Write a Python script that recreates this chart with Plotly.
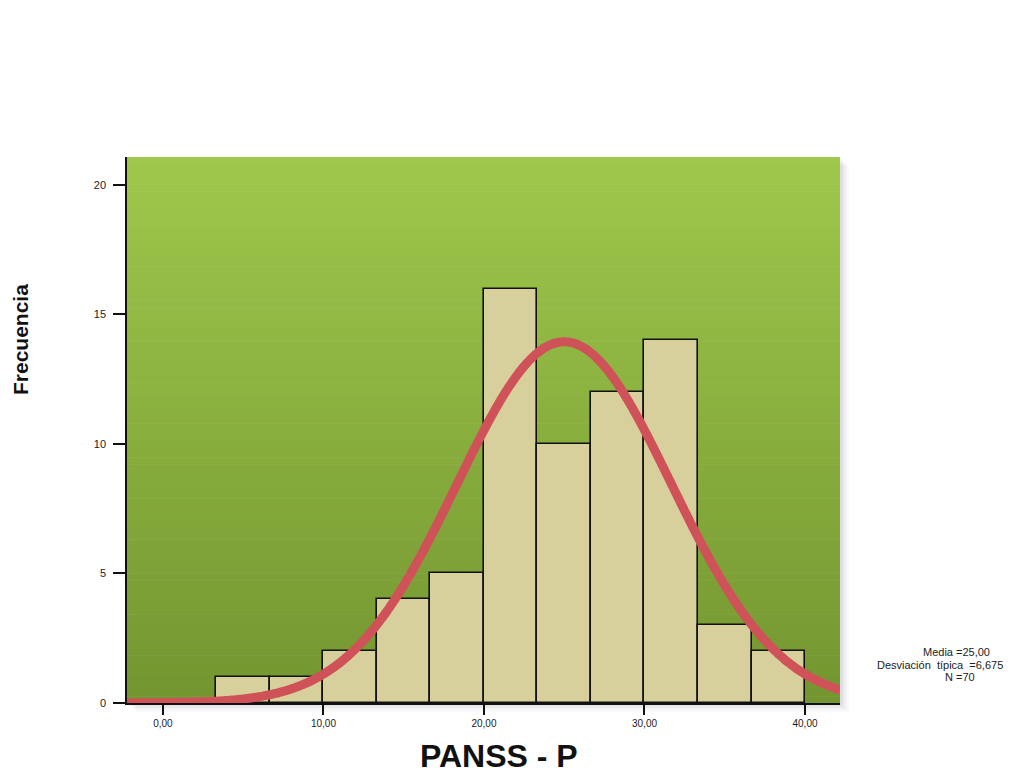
import numpy as np
import plotly.graph_objects as go

# ---- data ----
bin_edges = [10/3, 20/3, 10.0, 40/3, 50/3, 20.0, 70/3, 80/3, 30.0, 100/3, 110/3, 40.0]
counts = [1, 1, 2, 4, 5, 16, 10, 12, 14, 3, 2]
mean_val = 25.00
sd_val = 6.675
n_val = 70
x_tickvals = [0, 10, 20, 30, 40]
x_ticktext = ["0,00", "10,00", "20,00", "30,00", "40,00"]
y_tickvals = [0, 5, 10, 15, 20]
stats_lines = ["Media =25,00", "Desviación  típica  =6,675", "N =70"]

# ---- layout geometry (page has an 8px body margin) ----
OFF = 8
W, H = 1000, 765
L, R, T, B = 127, 840, 157, 703
x_range = [-2.24, 42.18]
y_range = [0, 21.08]


def px_to_paper(px, py):
    return (px - L) / (R - L), (B - py) / (B - T)


centers = [(a + b) / 2 for a, b in zip(bin_edges[:-1], bin_edges[1:])]
widths = [b - a for a, b in zip(bin_edges[:-1], bin_edges[1:])]
bw = widths[0]

# normal curve defined by the displayed statistics
xc = np.linspace(x_range[0], x_range[1], 400)
yc = n_val * bw / (sd_val * np.sqrt(2 * np.pi)) * np.exp(-0.5 * ((xc - mean_val) / sd_val) ** 2)

fig = go.Figure()
fig.add_trace(go.Bar(
    x=centers, y=counts, width=widths,
    marker=dict(color="#d8d09c", line=dict(color="#111111", width=1.6)),
    hoverinfo="x+y",
))
fig.add_trace(go.Scatter(
    x=xc, y=yc, mode="lines",
    line=dict(color="#cf5258", width=9, shape="spline"),
    hoverinfo="skip", cliponaxis=False,
))

# background gradient + soft shadow
shapes = []
for k, (dx, op) in enumerate([(0.012, 0.05), (0.008, 0.07), (0.004, 0.09)]):
    shapes.append(dict(type="rect", xref="paper", yref="paper",
                       x0=dx, x1=1 + dx, y0=-dx * 1.3, y1=1 - dx * 1.3,
                       fillcolor="rgba(90,90,120,%.2f)" % op, line=dict(width=0), layer="below"))
top = np.array([0x9f, 0xc8, 0x4c])
bot = np.array([0x74, 0x96, 0x31])
nstrip = 80
for i in range(nstrip):
    f = i / (nstrip - 1)
    c = top * (1 - f) + bot * f
    y1 = 1 - i / nstrip
    y0 = 1 - (i + 1) / nstrip
    shapes.append(dict(type="rect", xref="paper", yref="paper",
                       x0=0, x1=1, y0=y0 - 0.001, y1=y1,
                       fillcolor="rgb(%d,%d,%d)" % tuple(c.astype(int)),
                       line=dict(width=0), layer="below"))

annotations = []
ax, ay = px_to_paper(20, 340)
annotations.append(dict(text="<b>Frecuencia</b>", xref="paper", yref="paper", x=ax, y=ay,
                        textangle=-90, showarrow=False, xanchor="center", yanchor="middle",
                        font=dict(family="Arial, Liberation Sans", size=21, color="#111111")))
ax, ay = px_to_paper(499, 756)
annotations.append(dict(text="<b>PANSS - P</b>", xref="paper", yref="paper", x=ax, y=ay,
                        showarrow=False, xanchor="center", yanchor="middle",
                        font=dict(family="Arial, Liberation Sans", size=32, color="#111111")))
stat_pos = [(956, 652), (940, 665), (960, 677)]
for txt, (sx, sy) in zip(stats_lines, stat_pos):
    ax, ay = px_to_paper(sx, sy)
    annotations.append(dict(text=txt, xref="paper", yref="paper", x=ax, y=ay,
                            xanchor="center", yanchor="middle", showarrow=False,
                            font=dict(family="Arial, Liberation Sans", size=11, color="#222222")))

fig.update_layout(
    width=W, height=H,
    margin=dict(l=L - OFF, r=W - (R - OFF), t=T - OFF, b=H - (B - OFF), autoexpand=False),
    paper_bgcolor="white", plot_bgcolor="rgba(0,0,0,0)",
    showlegend=False, bargap=0,
    shapes=shapes, annotations=annotations,
    font=dict(family="Arial, Liberation Sans", size=10, color="#222222"),
)
fig.update_xaxes(range=x_range, tickvals=x_tickvals, ticktext=x_ticktext,
                 showgrid=False, zeroline=False, showline=True, linecolor="#111111", linewidth=1.5,
                 ticks="outside", ticklen=10, tickcolor="#111111", tickwidth=1.5,
                 tickfont=dict(size=10), layer="below traces")
fig.update_yaxes(range=y_range, tickvals=y_tickvals,
                 showgrid=False, zeroline=False, showline=True, linecolor="#111111", linewidth=1.5,
                 ticks="outside", ticklen=12, tickcolor="#111111", tickwidth=1.5,
                 tickfont=dict(size=11), layer="below traces", ticklabelstandoff=5)

fig.write_html("out.html")
